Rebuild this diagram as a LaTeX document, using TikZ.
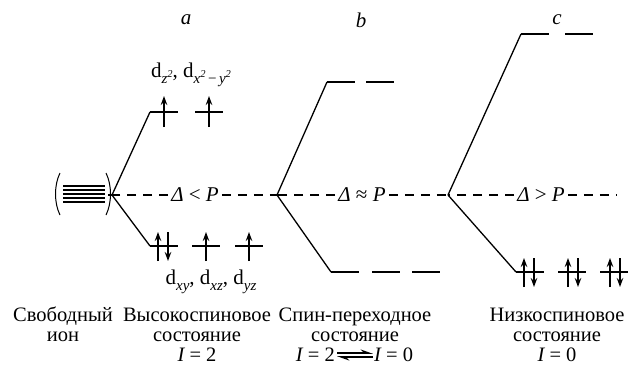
\documentclass[tikz,border=0pt]{standalone}
\usepackage{fontspec}
\setmainfont{Liberation Serif}
\usetikzlibrary{arrows.meta}
\newcommand{\subi}[1]{\raisebox{-0.28em}{\fontsize{15}{15}\selectfont\itshape #1}}
\newcommand{\sqr}{\raisebox{0.4em}{\fontsize{10.5}{10.5}\selectfont 2}}
\begin{document}
\begin{tikzpicture}[x=1pt,y=-1pt,
  split/.style={line width=1.3pt},
  lvl/.style={line width=2.2pt},
  spinup/.style={line width=1.2pt,-{Stealth[length=9pt,width=6.5pt]}},
  txt/.style={font=\fontsize{21}{22}\selectfont, inner sep=0pt},
  btxt/.style={font=\fontsize{20.5}{22}\selectfont, inner sep=0pt, anchor=base},
  hdr/.style={font=\fontsize{21}{22}\selectfont\itshape, inner sep=0pt},
  gapbox/.style={txt, inner xsep=3pt, inner ysep=3pt},
  dashline/.style={line width=1.1pt, dash pattern=on 9pt off 7pt},
  harp/.style={line width=1.6pt,-{Stealth[harpoon,length=10pt,width=7pt]}}]
\useasboundingbox (0,0) rectangle (635,368);

% headers
\node[hdr] (ha) at (186,20) {a};
\node[hdr] (hb) at (361,20) {b};
\node[hdr] (hc) at (557,20) {c};

% vertices
\coordinate (va) at (112,195);
\coordinate (vb) at (277,195);
\coordinate (vc) at (448,195);
\coordinate (vend) at (616,195);

% dashed line with labels
\node[gapbox] (da) at (195,195) {{\itshape Δ} < {\itshape P}};
\node[gapbox] (db) at (362,195) {{\itshape Δ} ≈ {\itshape P}};
\node[gapbox] (dc) at (541,195) {{\itshape Δ} > {\itshape P}};
\draw[dashline] (da.west) -- (va);
\draw[dashline] (da.east) -- (vb);
\draw[dashline] (db.west) -- (vb);
\draw[dashline] (db.east) -- (vc);
\draw[dashline] (dc.west) -- (vc);
\draw[dashline] (dc.east) -- (vend);

% free ion
\foreach \yy in {186,190,194,198,202} \draw[line width=2.1pt] (63,\yy) -- (105,\yy);
\draw[line width=1pt] (60,173) .. controls (54,185) and (54,203) .. (60,215);
\draw[line width=1pt] (106,173) .. controls (112,185) and (112,203) .. (106,215);
\draw[split] (108,195) -- (va);

% a: high spin
\coordinate (au) at (150,112);
\coordinate (al) at (150,246);
\draw[split] (va) -- (au);
\draw[split] (va) -- (al);
\draw[lvl] (au) -- ++(28,0);
\draw[lvl] (195,112) -- ++(28,0);
\draw[lvl] (al) -- ++(28,0);
\draw[lvl] (192,246) -- ++(28,0);
\draw[lvl] (235,246) -- ++(28,0);
\draw[spinup] (164,127) -- (164,96);
\draw[spinup] (209,127) -- (209,96);
\draw[spinup] (158,261) -- (158,232);
\draw[spinup] (168,232) -- (168,261);
\draw[spinup] (206,261) -- (206,232);
\draw[spinup] (249,261) -- (249,232);
\node[txt] (eg) at (191,75) {d\subi{z\sqr}, d\subi{x\sqr\,\upshape −\,\itshape y\sqr}};
\node[txt] (t2g) at (211,282) {d\subi{xy}, d\subi{xz}, d\subi{yz}};

% b: spin crossover
\coordinate (bu) at (327,82);
\coordinate (bl) at (331,272);
\draw[split] (vb) -- (bu);
\draw[split] (vb) -- (bl);
\draw[lvl] (bu) -- ++(28,0);
\draw[lvl] (366,82) -- ++(28,0);
\draw[lvl] (bl) -- ++(28,0);
\draw[lvl] (372,272) -- ++(28,0);
\draw[lvl] (412,272) -- ++(28,0);

% c: low spin
\coordinate (cu) at (521,34);
\coordinate (cl) at (516,272);
\draw[split] (vc) -- (cu);
\draw[split] (vc) -- (cl);
\draw[lvl] (cu) -- ++(28,0);
\draw[lvl] (565,34) -- ++(28,0);
\draw[lvl] (cl) -- ++(28,0);
\draw[lvl] (558,272) -- ++(28,0);
\draw[lvl] (600,272) -- ++(28,0);
\foreach \xx in {524,568,610} {
  \draw[spinup] (\xx,287) -- (\xx,258);
  \draw[spinup] (\xx+10,258) -- (\xx+10,287);
}

% bottom labels
\node[btxt] (f1) at (63,321) {Свободный};
\node[btxt] (f2) at (63,341) {ион};
\node[btxt] (h1) at (197,321) {Высокоспиновое};
\node[btxt] (h2) at (197,341) {состояние};
\node[btxt] (h3) at (197,361) {{\itshape I} = 2};
\node[btxt] (s1) at (355,321) {Спин-переходное};
\node[btxt] (s2) at (355,341) {состояние};
\node[btxt, anchor=base east] (s3l) at (335,361) {{\itshape I} = 2};
\node[btxt, anchor=base west] (s3r) at (374,361) {{\itshape I} = 0};
\draw[harp] ([xshift=2pt,yshift=8pt]s3l.base east) -- ([xshift=-1pt,yshift=8pt]s3r.base west);
\draw[harp] ([xshift=-1pt,yshift=4pt]s3r.base west) -- ([xshift=2pt,yshift=4pt]s3l.base east);
\node[btxt] (l1) at (557,321) {Низкоспиновое};
\node[btxt] (l2) at (557,341) {состояние};
\node[btxt] (l3) at (557,361) {{\itshape I} = 0};
\end{tikzpicture}
\end{document}
